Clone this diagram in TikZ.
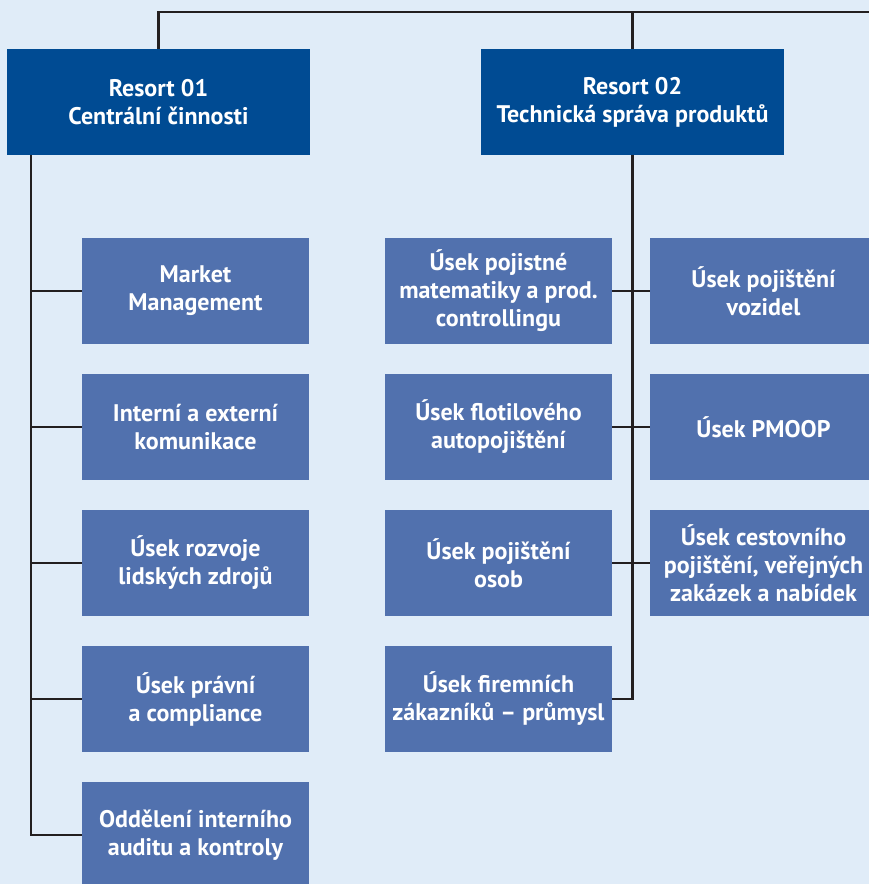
\documentclass[tikz,border=0pt]{standalone}
\usepackage{fontspec}
\setmainfont{PT Sans}

\definecolor{paleblue}{HTML}{E0ECF8}
\definecolor{resortblue}{HTML}{004B93}
\definecolor{unitblue}{HTML}{5171AE}
\definecolor{linegrey}{HTML}{231F20}

\tikzset{
  resortbox/.style={fill=resortblue,text=white,align=center,inner sep=0pt,
    minimum width=303pt,minimum height=106pt,font=\bfseries\fontsize{24}{28}\selectfont},
  unitbox/.style={fill=unitblue,text=white,align=center,inner sep=0pt,
    minimum width=227pt,minimum height=106pt,font=\bfseries\fontsize{24}{28}\selectfont},
  link/.style={draw=linegrey,line width=2.4pt}
}

\begin{document}
\begin{tikzpicture}[x=1pt,y=-1pt]

\useasboundingbox (0,0) rectangle (869,884);
\clip (0,0) rectangle (869,884);
\fill[paleblue] (0,0) rectangle (869,884);

% resorts
\node[resortbox] (r1) at (158.5,102) {Resort 01\\Centrální činnosti};
\node[resortbox] (r2) at (632.5,102) {Resort 02\\Technická správa produktů};

% resort 01
\node[unitbox] (mm)  at (195.5,291) {Market\\Management};
\node[unitbox] (kom) at (195.5,427) {Interní a externí\\komunikace};
\node[unitbox] (hr)  at (195.5,563) {Úsek rozvoje\\lidských zdrojů};
\node[unitbox] (law) at (195.5,699) {Úsek právní\\a compliance};
\node[unitbox] (aud) at (195.5,835) {Oddělení interního\\auditu a kontroly};

% resort 02
\node[unitbox] (mat) at (498.5,291) {Úsek pojistné\\matematiky a prod.\\controllingu};
\node[unitbox] (flo) at (498.5,427) {Úsek flotilového\\autopojištění};
\node[unitbox] (oso) at (498.5,563) {Úsek pojištění\\osob};
\node[unitbox] (fir) at (498.5,699) {Úsek firemních\\zákazníků – průmysl};
\node[unitbox] (voz) at (763.5,291) {Úsek pojištění\\vozidel};
\node[unitbox] (pmo) at (763.5,427) {Úsek PMOOP};
\node[unitbox] (ces) at (763.5,563) {Úsek cestovního\\pojištění, veřejných\\zakázek a nabídek};

% connectors
\coordinate (top) at (869,12);
\coordinate (trunk) at ([xshift=24pt]r1.south west);

\draw[link] (r1.north) |- (top);
\draw[link] (r2.north) -- (r2.north |- top);

\draw[link] (trunk) |- (aud.west);
\draw[link] (trunk |- mm.west) -- (mm.west);
\draw[link] (trunk |- kom.west) -- (kom.west);
\draw[link] (trunk |- hr.west) -- (hr.west);
\draw[link] (trunk |- law.west) -- (law.west);

\draw[link] (r2.south) |- (fir.east);
\draw[link] (mat.east) -- (voz.west);
\draw[link] (flo.east) -- (pmo.west);
\draw[link] (oso.east) -- (ces.west);

\end{tikzpicture}
\end{document}
